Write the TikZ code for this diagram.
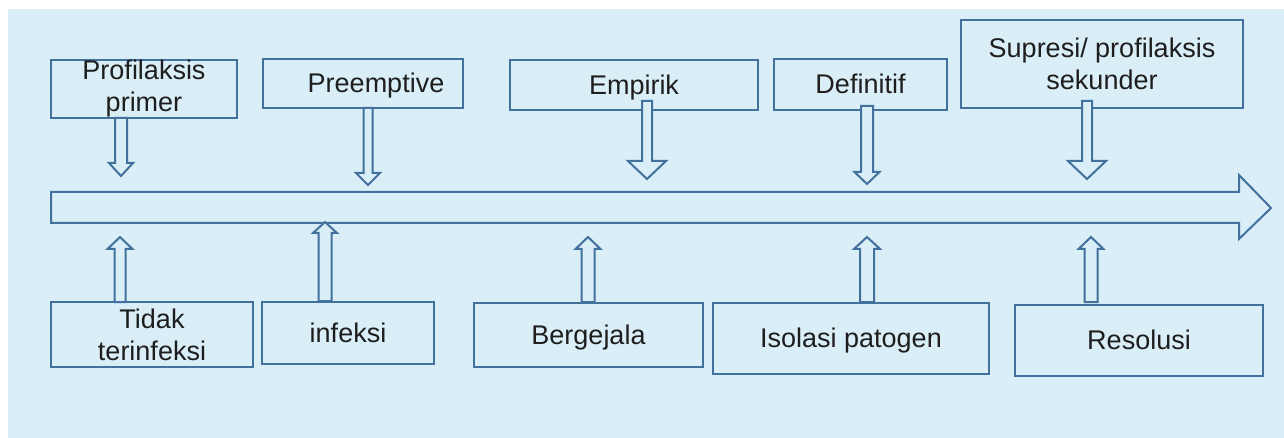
\documentclass[tikz,border=0pt]{standalone}
\usepackage{fontspec}
\setmainfont{Liberation Sans}
\usepackage{tikz}
\usetikzlibrary{positioning}
\definecolor{bgblue}{HTML}{DAEEF7}
\definecolor{lineblue}{HTML}{41719C}
\definecolor{ink}{HTML}{1E1E1E}
% block arrows: #1 = x, #2 = shaft end, #3 = head base, #4 = tip, #5 = half shaft, #6 = half head
\newcommand{\blockdown}[6]{\draw[blockarrow] ({#1-#5},#2) -- ({#1+#5},#2) -- ({#1+#5},#3) -- ({#1+#6},#3) -- (#1,#4) -- ({#1-#6},#3) -- ({#1-#5},#3) -- cycle;}
\newcommand{\blockup}[6]{\draw[blockarrow] ({#1-#5},#2) -- ({#1+#5},#2) -- ({#1+#5},#3) -- ({#1+#6},#3) -- (#1,#4) -- ({#1-#6},#3) -- ({#1-#5},#3) -- cycle;}

\begin{document}
\begin{tikzpicture}[x=0.5pt, y=-0.5pt,
  stage/.style={draw=lineblue, line width=1pt, rectangle, inner sep=0pt, align=center, text=ink, font=\fontsize{13.5}{16}\selectfont},
  oneline/.style={stage, text height=12.2pt, text depth=2.9pt},
  blockarrow/.style={draw=lineblue, line width=1pt, fill=bgblue, line join=miter}]
  \useasboundingbox (0,0) rectangle (1284,438);
  \fill[bgblue] (8,9) rectangle (1284,438);

  % timeline
  \draw[blockarrow] (51,192) -- (1239,192) -- (1239,175) -- (1271,208) -- (1239,239) -- (1239,223) -- (51,223) -- cycle;

  % therapy stages (top)
  \node[stage, minimum width=93pt, minimum height=29pt] (prof) at (144,89) {Profilaksis\\primer};
  \node[oneline, minimum width=100pt, minimum height=24.5pt] (pre) at (363,83.5) {\hspace*{13pt}Preemptive};
  \node[oneline, minimum width=124pt, minimum height=25pt] (emp) at (634,85) {Empirik};
  \node[oneline, minimum width=86.5pt, minimum height=25.5pt] (def) at (860.5,84.5) {Definitif};
  \node[stage, minimum width=141pt, minimum height=44pt] (sup) at (1102,64) {Supresi/ profilaksis\\sekunder};

  % disease stages (bottom)
  \node[stage, minimum width=101pt, minimum height=32.5pt] (tidak) at (152,334.5) {Tidak\\terinfeksi};
  \node[oneline, minimum width=86pt, minimum height=31pt] (inf) at (348,333) {infeksi};
  \node[oneline, minimum width=114.5pt, minimum height=32pt] (ber) at (588.5,335) {Bergejala};
  \node[oneline, minimum width=138pt, minimum height=35.5pt] (iso) at (851,338.5) {Isolasi patogen};
  \node[oneline, minimum width=124pt, minimum height=35.5pt] (res) at (1139,340.5) {Resolusi};

  % arrows down onto the timeline
  \blockdown{121}{118}{163}{176}{6}{12}
  \blockdown{368}{108}{173}{185}{4.5}{12}
  \blockdown{647}{101}{161}{179}{5}{19}
  \blockdown{867}{106}{172}{184}{6}{12.5}
  \blockdown{1087}{101}{161}{179}{5}{19}

  % arrows up onto the timeline
  \blockup{120}{302}{249}{237}{5.5}{12.5}
  \blockup{325}{301}{233}{222}{6.5}{12}
  \blockup{588}{302}{249}{237}{6.5}{12.5}
  \blockup{867}{302}{249}{237}{7}{13}
  \blockup{1091}{302}{249}{237}{6.5}{12.5}
\end{tikzpicture}
\end{document}
